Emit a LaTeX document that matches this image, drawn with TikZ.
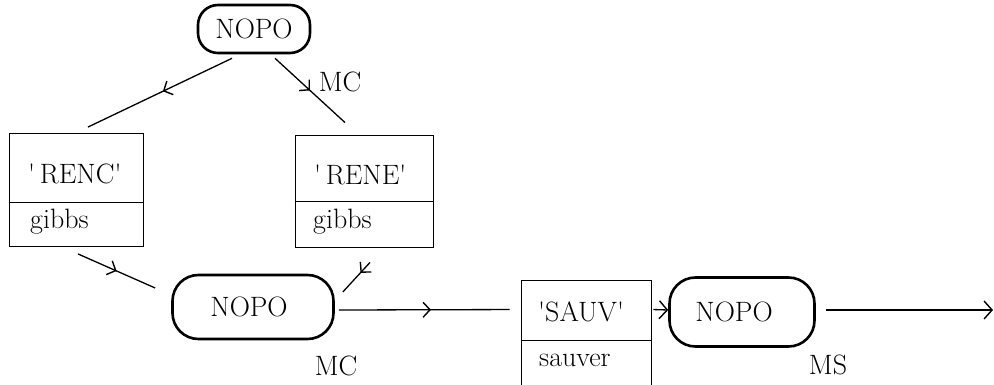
\documentclass[tikz,border=0pt]{standalone}
\usetikzlibrary{arrows.meta,decorations.markings,calc}
\begin{document}
\begin{tikzpicture}[x=1pt,y=-1pt,
  rnd/.style={draw, line width=2.6pt, inner sep=0pt},
  lbox/.style={draw, line width=0.9pt, inner sep=0pt},
  txt/.style={font=\fontsize{28}{32}\selectfont, inner sep=0pt},
  conn/.style={line width=1.3pt},
  mid/.style={postaction={decorate}, decoration={markings, mark=at position #1 with {\arrow{Straight Barb[length=7pt,width=15pt,line width=1.4pt]}}}},
  tip/.style={-{Straight Barb[length=8pt,width=18pt,line width=1.4pt]}}
]
\useasboundingbox (0,0) rectangle (994,385);
\clip (0,0) rectangle (994,385);
% rounded nodes
\node[rnd, rounded corners=20pt, minimum width=112pt, minimum height=48pt] (topnopo) at (254,29) {};
\node[txt] at (topnopo) {NOPO};
\node[rnd, rounded corners=26pt, minimum width=161pt, minimum height=64pt] (nopo2) at (253,307) {};
\node[txt] at ($(nopo2)+(-4,0)$) {NOPO};
\node[rnd, rounded corners=26pt, minimum width=145pt, minimum height=69pt] (nopo3) at (742,312) {};
\node[txt] at ($(nopo3)+(-8,0)$) {NOPO};
% split boxes
\node[lbox, minimum width=134pt, minimum height=113pt] (renc) at (76,190) {};
\draw[line width=0.9pt] (renc.west |- 0,202) -- (renc.east |- 0,202);
\node[txt, anchor=west] at (28,174) {\textquotesingle\,RENC\textquotesingle};
\node[txt, anchor=west] at (30,222) {gibbs};
\node[lbox, minimum width=138pt, minimum height=112pt] (rene) at (364,191) {};
\draw[line width=0.9pt] (rene.west |- 0,201) -- (rene.east |- 0,201);
\node[txt, anchor=west] at (314,175) {\textquotesingle\,RENE\textquotesingle};
\node[txt, anchor=west] at (313,222) {gibbs};
\node[lbox, minimum width=130pt, minimum height=130pt] (sauv) at (586,345) {};
\draw[line width=0.9pt] (sauv.west |- 0,340) -- (sauv.east |- 0,340);
\node[txt, anchor=west] at (538,312) {\textquotesingle SAUV\textquotesingle};
\node[txt, anchor=west] at (539,360) {sauver};
% labels
\node[txt] (lmc1) at (340,82) {MC};
\node[txt] (lmc2) at (336,366) {MC};
\node[txt] (lms) at (828,365) {MS};
% connectors
\draw[conn, mid=0.48] ($(topnopo.south)+(-22,4)$) -- ($(renc.north)+(12,-6)$);
\draw[conn, mid=0.5] ($(topnopo.south)+(21,4)$) -- ($(rene.north)+(-19,-12)$);
\draw[conn, mid=0.5] ($(renc.south)+(2,7)$) -- ($(nopo2.west)+(-16,-19)$);
\draw[conn, mid=0.35] ($(rene.south)+(6,15)$) -- ($(nopo2.east)+(8,-15)$);
\draw[conn, mid=0.54] ($(nopo2.east)+(4,3)$) -- ($(sauv.north west)+(-11,30)$);
\draw[conn, tip] ($(sauv.north east)+(2,30)$) -- ($(nopo3.west)+(0,-2)$);
\coordinate (endpt) at (993,310);
\draw[conn, tip] ($(nopo3.east)+(10,-2)$) -- (endpt);
\end{tikzpicture}
\end{document}
